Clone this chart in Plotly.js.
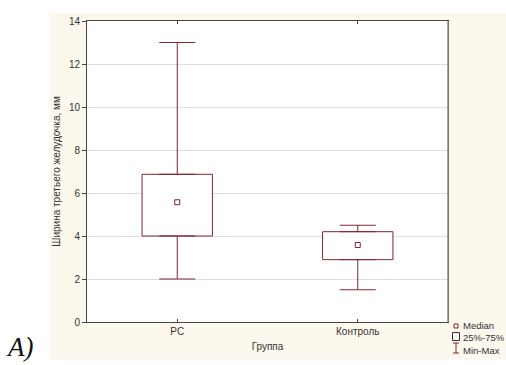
<!DOCTYPE html>
<html>
<head>
<meta charset="utf-8">
<script src="https://cdn.plot.ly/plotly-3.0.1.min.js"></script>
<style>html,body{margin:0;padding:0;background:#fff;}#chart{width:506px;height:365px;}</style>
</head>
<body>
<div id="chart"></div>
<script>
// Data
const categories = ['PC', 'Контроль'];
const q1Values = [4.0, 2.9];
const medianValues = [5.57, 3.58];
const q3Values = [6.87, 4.2];
const minValues = [2.0, 1.5];
const maxValues = [13.0, 4.5];
const yTicks = [0, 2, 4, 6, 8, 10, 12, 14];
const legendLabels = ['Median', '25%-75%', 'Min-Max'];

const W = 506, H = 365;
const M = {l: 87, r: 58, t: 21, b: 43};
const PW = W - M.l - M.r, PH = H - M.t - M.b;
const px = v => (v - M.l) / PW;
const py = v => (H - M.b - v) / PH;

const dark = '#7d2633';
const txt = '#333333';
const fnt = {family: 'Liberation Sans, Arial, sans-serif', size: 10, color: txt};

const boxTrace = {
  type: 'bar', x: categories, base: q1Values,
  y: q3Values.map((v, i) => v - q1Values[i]),
  width: 0.39,
  marker: {color: '#ffffff', line: {color: dark, width: 1}},
  hoverinfo: 'skip', showlegend: false
};
const upperWhisker = {
  type: 'scatter', mode: 'markers', x: categories, y: q3Values,
  marker: {size: 1, opacity: 0},
  error_y: {type: 'data', symmetric: false,
    array: maxValues.map((v, i) => v - q3Values[i]),
    arrayminus: q3Values.map(() => 0),
    color: dark, thickness: 1, width: 18},
  hoverinfo: 'skip', showlegend: false
};
const lowerWhisker = {
  type: 'scatter', mode: 'markers', x: categories, y: q1Values,
  marker: {size: 1, opacity: 0},
  error_y: {type: 'data', symmetric: false,
    array: q1Values.map(() => 0),
    arrayminus: q1Values.map((v, i) => v - minValues[i]),
    color: dark, thickness: 1, width: 18},
  hoverinfo: 'skip', showlegend: false
};
const medianTrace = {
  type: 'scatter', mode: 'markers', x: categories, y: medianValues,
  marker: {symbol: 'square-open', size: 5, color: dark, line: {width: 1, color: dark}},
  hoverinfo: 'skip', showlegend: false
};

const cream = '#fdf8ed';
const shapes = [
  // white outside of the cream frame
  {type: 'rect', xref: 'paper', yref: 'paper', x0: px(0), x1: px(50), y0: py(H), y1: py(0), fillcolor: '#fff', line: {width: 0}, layer: 'below'},
  {type: 'rect', xref: 'paper', yref: 'paper', x0: px(0), x1: px(W), y0: py(13), y1: py(0), fillcolor: '#fff', line: {width: 0}, layer: 'below'},
  {type: 'rect', xref: 'paper', yref: 'paper', x0: px(0), x1: px(W), y0: py(H), y1: py(360), fillcolor: '#fff', line: {width: 0}, layer: 'below'},
  // right border, lighter grey
  {type: 'line', xref: 'paper', yref: 'paper', x0: 1, x1: 1, y0: 0, y1: 1, line: {color: '#8a8a8a', width: 1.5}},
  // legend icons
  {type: 'rect', xref: 'paper', yref: 'paper', x0: px(454), x1: px(458), y0: py(328), y1: py(324), line: {color: dark, width: 1}},
  {type: 'rect', xref: 'paper', yref: 'paper', x0: px(452.5), x1: px(459.5), y0: py(340.5), y1: py(332.5), line: {color: '#333', width: 1}},
  {type: 'line', xref: 'paper', yref: 'paper', x0: px(456), x1: px(456), y0: py(353), y1: py(343), line: {color: dark, width: 1}},
  {type: 'line', xref: 'paper', yref: 'paper', x0: px(453), x1: px(459), y0: py(343), y1: py(343), line: {color: dark, width: 1}},
  {type: 'line', xref: 'paper', yref: 'paper', x0: px(453), x1: px(459), y0: py(353), y1: py(353), line: {color: dark, width: 1}}
];

const annotations = [
  {text: legendLabels.join('<br>'), xref: 'paper', yref: 'paper', x: px(462), y: py(338), xanchor: 'left', yanchor: 'middle', align: 'left', borderpad: 0, showarrow: false, font: {family: fnt.family, size: 9.5, color: txt}},
  {text: '<i>A)</i>', xref: 'paper', yref: 'paper', x: px(4), y: py(347), xanchor: 'left', yanchor: 'middle', showarrow: false, font: {family: 'Liberation Serif, Times New Roman, serif', size: 27, color: '#111'}}
];

const layout = {
  width: W, height: H,
  margin: {l: M.l, r: M.r, t: M.t, b: M.b, pad: 0},
  paper_bgcolor: cream, plot_bgcolor: '#ffffff',
  showlegend: false,
  font: fnt,
  xaxis: {
    type: 'category', range: [-0.5, 1.5], categoryorder: 'array', categoryarray: categories,
    showline: true, linecolor: '#444', linewidth: 1, mirror: 'ticks',
    ticks: 'inside', ticklen: 3, tickcolor: '#444', showgrid: false, zeroline: false,
    tickfont: fnt,
    title: {text: 'Группа', font: fnt, standoff: 6}
  },
  yaxis: {
    range: [0, 14], tickvals: yTicks, ticktext: yTicks.map(String),
    showline: true, linecolor: '#444', linewidth: 1, mirror: true,
    ticks: 'outside', ticklen: 4, tickcolor: '#444',
    showgrid: true, gridcolor: '#dedede', gridwidth: 1, zeroline: false,
    tickfont: fnt,
    title: {text: 'Ширина третьего желудочка, мм', font: fnt, standoff: 6}
  },
  shapes: shapes,
  annotations: annotations
};

Plotly.newPlot('chart', [boxTrace, lowerWhisker, upperWhisker, medianTrace], layout, {displayModeBar: false, staticPlot: true});
</script>
</body>
</html>
